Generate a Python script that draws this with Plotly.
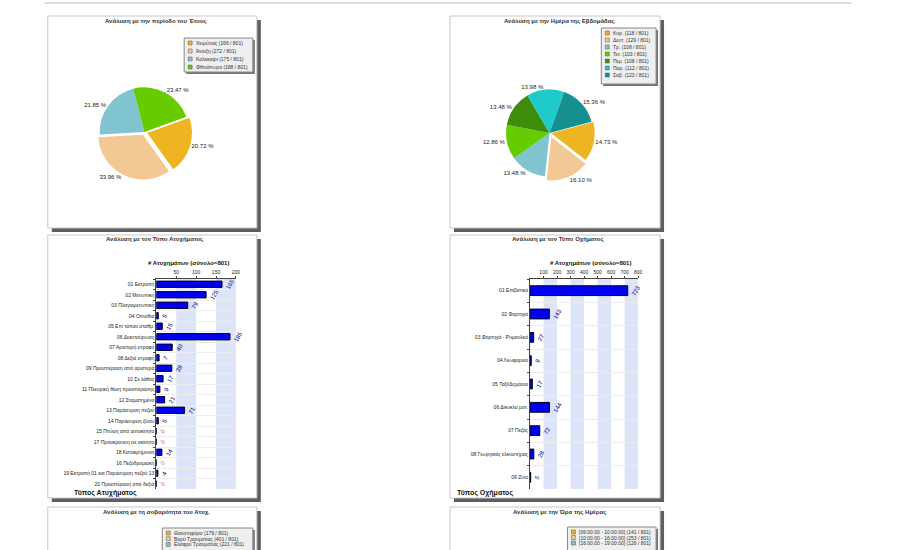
import plotly.graph_objects as go

W, H = 900, 550
TOTAL = 801

season_labels = ["Χειμώνας", "Άνοιξη", "Καλοκαίρι", "Φθινόπωρο"]
season_counts = [166, 272, 175, 188]

day_labels = ["Κυρ.", "Δευτ.", "Τρ.", "Τετ.", "Πεμ.", "Παρ.", "Σαβ."]
day_counts = [118, 129, 108, 103, 108, 112, 123]

accident_types = [
    "01 Εκτροπή", "02 Μετωπική", "03 Πλαγιομετωπική", "04 Οπίσθια",
    "05 Επί τόπου σταθμ.", "06 Διασταύρωση", "07 Αριστερή στροφή",
    "08 Δεξιά στροφή", "09 Προσπέραση από αριστερά", "10 Σε λάθος",
    "11 Πλευρική θέση προσπέρασης", "12 Σταματημένο", "13 Παράσυρση πεζού",
    "14 Παράσυρση ζώου", "15 Πτώση από αυτοκίνητο", "17 Πρόσκρουση σε ακίνητο",
    "18 Κατακρήμνιση", "16 Πεζοδρομιακή", "19 Εκτροπή 01 και Παράσυρση πεζού 13",
    "20 Προσπέραση από δεξιά",
]
accident_counts = [165, 125, 79, 5, 15, 185, 40, 7, 39, 17, 9, 21, 71, 5, 0, 0, 14, 0, 4, 0]
accident_ticks = [50, 100, 150, 200]

vehicle_types = [
    "01 Επιβατικό", "02 Φορτηγό", "03 Φορτηγό - Ρυμουλκό", "04 Λεωφορείο",
    "05 Ταξί/Δημόσιο", "06 Δίκυκλο μοτ.", "07 Πεζός",
    "08 Γεωργικός ελκυστήρας", "09 Ζώο",
]
vehicle_counts = [723, 143, 27, 9, 17, 144, 72, 28, 5]
vehicle_ticks = [100, 200, 300, 400, 500, 600, 700, 800]

severity_labels = ["Θανατηφόρο", "Βαρύ Τραυματίας", "Ελαφρύ Τραυματίας"]
severity_counts = [179, 401, 221]

hour_labels = ["[06:00:00 - 10:00:00]", "[10:00:00 - 16:00:00]", "[16:00:00 - 19:00:00]"]
hour_counts = [141, 253, 126]

FONT = "Liberation Sans, Arial, sans-serif"
pie_colors = ["#EEB422", "#F2C894", "#7FC4CF", "#66CC00", "#3D8C0A", "#1ECACA", "#168F8F"]


def px(x):
    return x / W


def py(y):
    return 1 - y / H


def pct_text(values):
    s = sum(values)
    return [f"{v / s * 100:.2f} %" for v in values]


fig = go.Figure()

# page separator line
fig.add_shape(type="line", xref="paper", yref="paper", x0=px(45), x1=px(855),
              y0=py(3), y1=py(3), line=dict(color="#bbbbbb", width=1))

# panel boxes with drop shadow
panels = [(48, 16, 258, 228), (452, 16, 663, 228),
          (48, 235, 258, 498), (452, 235, 663, 498),
          (48, 507, 258, 720), (452, 507, 663, 720)]
for x0, y0, x1, y1 in panels:
    fig.add_shape(type="rect", xref="paper", yref="paper", layer="below",
                  x0=px(x0 + 4), x1=px(x1 + 4), y0=py(y1 + 4), y1=py(y0 + 4),
                  fillcolor="#5e5e5e", line_width=0)
    fig.add_shape(type="rect", xref="paper", yref="paper", layer="below",
                  x0=px(x0), x1=px(x1), y0=py(y1), y1=py(y0),
                  fillcolor="white", line=dict(color="#c8c8c8", width=1))

# pies
fig.add_trace(go.Pie(
    labels=season_labels, values=season_counts, sort=False,
    direction="clockwise", rotation=70, pull=[0.07, 0.07, 0, 0],
    marker=dict(colors=pie_colors[:4], line=dict(width=0)),
    text=pct_text(season_counts), textinfo="text", textposition="outside",
    textfont=dict(size=6, color="#222", family=FONT),
    domain=dict(x=[px(97), px(193)], y=[py(180), py(84)]),
    showlegend=False, hoverinfo="label+value",
))
fig.add_trace(go.Pie(
    labels=day_labels, values=day_counts, sort=False,
    direction="clockwise", rotation=75, pull=[0.04, 0.1, 0, 0, 0, 0, 0],
    marker=dict(colors=pie_colors, line=dict(width=0)),
    text=pct_text(day_counts), textinfo="text", textposition="outside",
    textfont=dict(size=6, color="#222", family=FONT),
    domain=dict(x=[px(504), px(600)], y=[py(181), py(85)]),
    showlegend=False, hoverinfo="label+value",
))

# horizontal bar charts
fig.add_trace(go.Bar(
    x=accident_counts, y=accident_types, orientation="h", xaxis="x", yaxis="y",
    width=0.6, marker=dict(color="#0000EE", line=dict(color="#000022", width=1)),
    text=[str(v) for v in accident_counts], textposition="outside", textangle=-60,
    textfont=dict(size=6, family=FONT,
                  color=["#000080" if v else "#e07070" for v in accident_counts]),
    constraintext="none", cliponaxis=False, showlegend=False,
))
fig.add_trace(go.Bar(
    x=vehicle_counts, y=vehicle_types, orientation="h", xaxis="x2", yaxis="y2",
    width=0.42, marker=dict(color="#0000EE", line=dict(color="#000022", width=1)),
    text=[str(v) for v in vehicle_counts], textposition="outside", textangle=-60,
    textfont=dict(size=6, family=FONT, color="#000080"),
    constraintext="none", cliponaxis=False, showlegend=False,
))

# alternating column bands
for a in range(50, 200, 100):
    fig.add_shape(type="rect", xref="x", yref="y domain", layer="below",
                  x0=a, x1=a + 50, y0=0, y1=1, fillcolor="#dde4f7", line_width=0)
for a in range(100, 800, 200):
    fig.add_shape(type="rect", xref="x2", yref="y2 domain", layer="below",
                  x0=a, x1=a + 100, y0=0, y1=1, fillcolor="#dde4f7", line_width=0)

xcommon = dict(side="top", showline=True, linecolor="#444", linewidth=1,
               ticks="outside", ticklen=2, tickcolor="#444", showgrid=False,
               zeroline=False, tickfont=dict(size=5, color="#222", family=FONT))
ycommon = dict(type="category", autorange="reversed", showline=True,
               linecolor="#444", linewidth=1, ticks="outside", ticklen=2,
               tickcolor="#444", tickson="boundaries", showgrid=True,
               gridcolor="#ececec", gridwidth=1,
               tickfont=dict(size=5, color="#222", family=FONT))

fig.update_layout(
    width=W, height=H, margin=dict(l=0, r=0, t=0, b=0),
    paper_bgcolor="white", plot_bgcolor="#f6f6f6",
    font=dict(family=FONT, color="#222"),
    xaxis=dict(domain=[px(157), px(237)], range=[0, 200], tickvals=accident_ticks,
               anchor="y", **xcommon),
    yaxis=dict(domain=[py(489), py(279)], anchor="x", **ycommon),
    xaxis2=dict(domain=[px(532.4), px(641)], range=[0, 800], tickvals=vehicle_ticks,
                anchor="y2", **xcommon),
    yaxis2=dict(domain=[py(489), py(279)], anchor="x2", **ycommon),
)


def note(text, x, y, size=6, bold=False, xanchor="center", color="#333"):
    fig.add_annotation(text=f"<b>{text}</b>" if bold else text,
                       xref="paper", yref="paper", x=px(x), y=py(y),
                       xanchor=xanchor, yanchor="middle", showarrow=False,
                       font=dict(size=size, color=color, family=FONT))


# panel titles
note("Ανάλυση με την περίοδο του Έτους", 157, 21, bold=True)
note("Ανάλυση με την Ημέρα της Εβδομάδας", 562, 21, bold=True)
note("Ανάλυση με τον Τύπο Ατυχήματος", 155, 240, bold=True)
note("Ανάλυση με τον Τύπο Οχήματος", 560, 240, bold=True)
note("Ανάλυση με τη σοβαρότητα του Ατυχ.", 157, 512, bold=True)
note("Ανάλυση με την Ώρα της Ημέρας", 562, 512, bold=True)

# bar axis titles
note(f"# Ατυχημάτων (σύνολο={TOTAL})", 189, 263, size=6, bold=True, color="#111")
note(f"# Ατυχημάτων (σύνολο={TOTAL})", 593, 263, size=6, bold=True, color="#111")
note("Τύπος Ατυχήματος", 72, 493, size=7, bold=True, xanchor="left", color="#111")
note("Τύπος Οχήματος", 457, 493, size=7, bold=True, xanchor="left", color="#111")


def legend_box(x0, y0, x1, y1, labels, counts, step):
    fig.add_shape(type="rect", xref="paper", yref="paper",
                  x0=px(x0 + 2), x1=px(x1 + 2), y0=py(y1 + 2), y1=py(y0 + 2),
                  fillcolor="#777", line_width=0)
    fig.add_shape(type="rect", xref="paper", yref="paper",
                  x0=px(x0), x1=px(x1), y0=py(y1), y1=py(y0),
                  fillcolor="#efefef", line=dict(color="#888", width=1))
    for i, (lab, cnt) in enumerate(zip(labels, counts)):
        cy = y0 + 5 + i * step
        fig.add_shape(type="rect", xref="paper", yref="paper",
                      x0=px(x0 + 4), x1=px(x0 + 8), y0=py(cy + 2), y1=py(cy - 2),
                      fillcolor=pie_colors[i], line=dict(color="#555", width=0.5))
        note(f"{lab} ({cnt} / {TOTAL})", x0 + 10, cy, size=5, xanchor="left", color="#333")


legend_box(185, 38, 254, 72, season_labels, season_counts, 8)
legend_box(604, 28, 659, 84, day_labels, day_counts, 7)
legend_box(163, 528, 254, 600, severity_labels, severity_counts, 5.7)
legend_box(570, 527, 659, 600, hour_labels, hour_counts, 5.5)

fig.write_html("out.html", config={"displayModeBar": False},
               post_script="document.body.style.margin='0';")
